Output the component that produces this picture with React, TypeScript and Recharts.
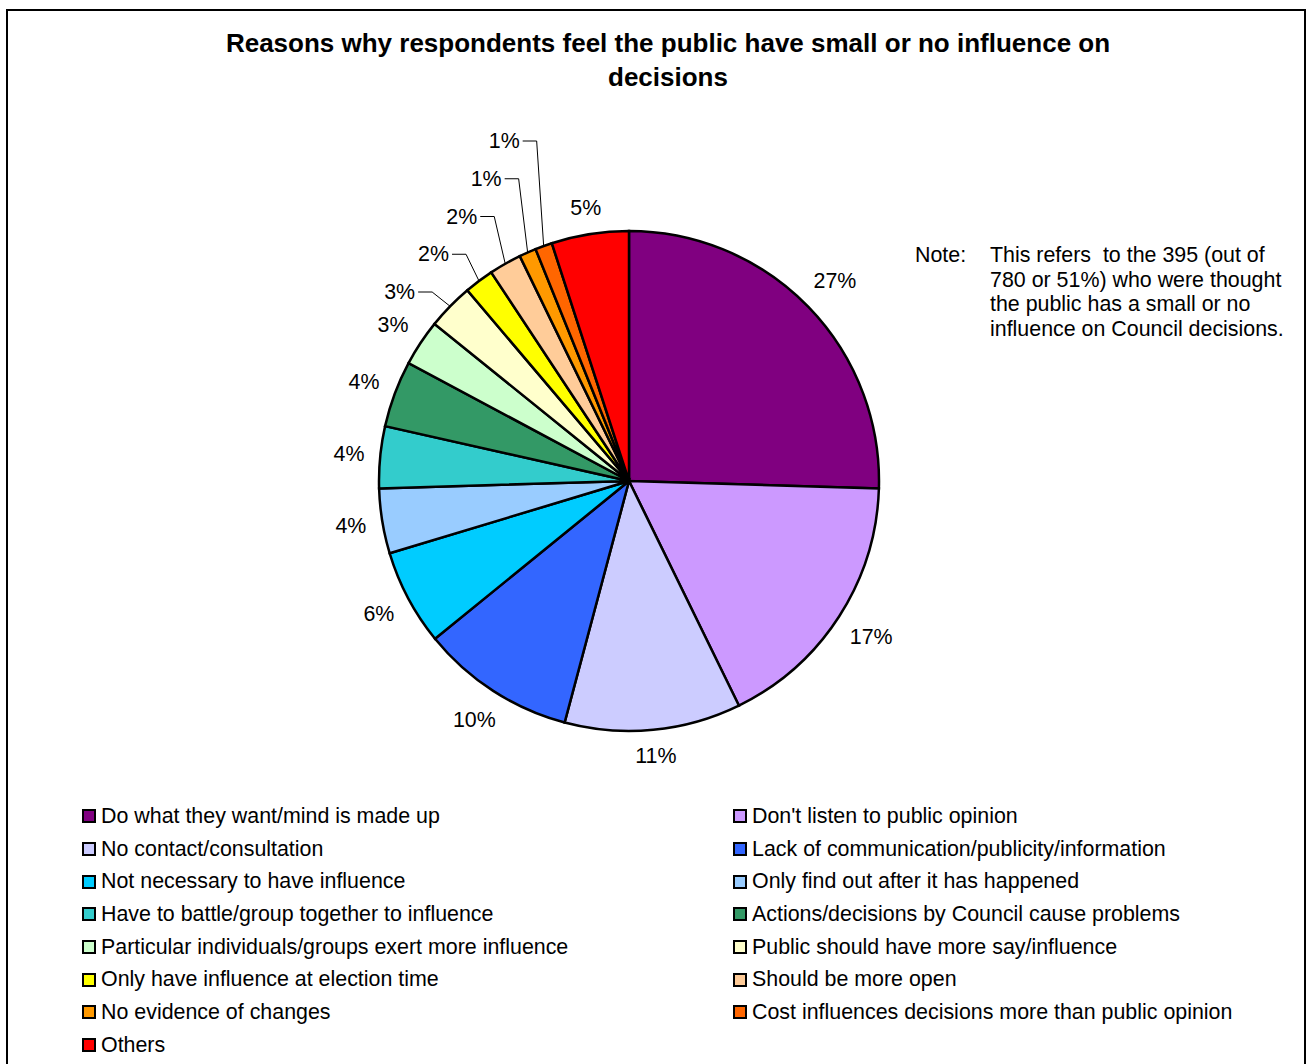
import { PieChart, Pie, Cell, Legend } from "recharts"

const categories = [
  "Do what they want/mind is made up",
  "Don't listen to public opinion",
  "No contact/consultation",
  "Lack of communication/publicity/information",
  "Not necessary to have influence",
  "Only find out after it has happened",
  "Have to battle/group together to influence",
  "Actions/decisions by Council cause problems",
  "Particular individuals/groups exert more influence",
  "Public should have more say/influence",
  "Only have influence at election time",
  "Should be more open",
  "No evidence of changes",
  "Cost influences decisions more than public opinion",
  "Others",
]

// slice sizes
const sliceShare = [25.5, 17.3, 11.4, 10.0, 6.2, 4.2, 4.0, 4.3, 3.0, 3.0, 1.9, 2.1, 1.1, 1.1, 5.0]

// percentages printed next to each slice
const printedPct = [27, 17, 11, 10, 6, 4, 4, 4, 3, 3, 2, 2, 1, 1, 5]

const colors = [
  "#800080", "#CC99FF", "#CCCCFF", "#3366FF", "#00CCFF",
  "#99CCFF", "#33CCCC", "#339966", "#CCFFCC", "#FFFFCC",
  "#FFFF00", "#FFCC99", "#FF9900", "#FF6600", "#FF0000",
]

const data = categories.map((name, i) => ({
  name,
  share: sliceShare[i],
  pct: printedPct[i],
}))

const FONT = "'Liberation Sans', Arial, sans-serif"
const FS = 21.4
const RAD = Math.PI / 180

// leader-line labels for the crowded small slices at the top left
const LEADER_FIRST = 9
const leaderElbowDx = [18, 13, 11, 9, 7]

function renderLabel(props: any) {
  const { cx, cy, midAngle, outerRadius, index } = props
  const text = `${printedPct[index]}%`
  const cos = Math.cos(midAngle * RAD)
  const sin = Math.sin(midAngle * RAD)

  if (index >= LEADER_FIRST && index < LEADER_FIRST + leaderElbowDx.length) {
    const k = index - LEADER_FIRST
    const ex = cx + outerRadius * cos
    const ey = cy - outerRadius * sin
    const ly = cy - 189 - 37.75 * k
    const elbowX = ex - leaderElbowDx[k]
    return (
      <g key={`lbl-${index}`}>
        <polyline
          points={`${elbowX - 14},${ly} ${elbowX},${ly} ${ex},${ey}`}
          fill="none"
          stroke="#000"
          strokeWidth={1}
        />
        <text
          x={elbowX - 17}
          y={ly}
          textAnchor="end"
          dominantBaseline="central"
          fontFamily={FONT}
          fontSize={FS}
          fill="#000"
        >
          {text}
        </text>
      </g>
    )
  }

  const hw = (((text.length - 1) * 0.556 + 0.889) * FS) / 2
  const hh = 9.5
  const d = outerRadius + 15 + hw * Math.abs(cos) + hh * Math.abs(sin)
  return (
    <text
      key={`lbl-${index}`}
      x={cx + d * cos}
      y={cy - d * sin}
      textAnchor="middle"
      dominantBaseline="central"
      fontFamily={FONT}
      fontSize={FS}
      fill="#000"
    >
      {text}
    </text>
  )
}

function LegendGrid() {
  return (
    <div
      style={{
        display: "grid",
        gridTemplateColumns: "651px 570px",
        gridAutoRows: "32.7px",
        fontFamily: FONT,
        fontSize: FS,
        color: "#000",
      }}
    >
      {categories.map((name, i) => (
        <div key={name} style={{ display: "flex", alignItems: "center", whiteSpace: "nowrap" }}>
          <span
            style={{
              display: "inline-block",
              width: 10,
              height: 10,
              border: "2px solid #000",
              background: colors[i],
              marginRight: 5,
            }}
          />
          {name}
        </div>
      ))}
    </div>
  )
}

export default function App() {
  return (
    <div
      style={{
        position: "absolute",
        left: 0,
        top: 0,
        width: 1308,
        height: 1064,
        overflow: "hidden",
        background: "#fff",
        fontFamily: FONT,
      }}
    >
      <div
        style={{
          position: "absolute",
          left: 6,
          top: 9,
          width: 1296,
          height: 1080,
          border: "2px solid #000",
        }}
      />
      <div
        style={{
          position: "absolute",
          left: 0,
          top: 26,
          width: 1336,
          textAlign: "center",
          fontWeight: "bold",
          fontSize: 26,
          lineHeight: "34px",
          color: "#000",
          whiteSpace: "nowrap",
        }}
      >
        Reasons why respondents feel the public have small or no influence on
        <br />
        decisions
      </div>
      <div
        style={{
          position: "absolute",
          left: 915,
          top: 243,
          fontSize: FS,
          lineHeight: "24.6px",
          color: "#000",
          whiteSpace: "pre",
        }}
      >
        Note:
      </div>
      <div
        style={{
          position: "absolute",
          left: 990,
          top: 243,
          fontSize: FS,
          lineHeight: "24.6px",
          color: "#000",
          whiteSpace: "pre",
        }}
      >
        {"This refers  to the 395 (out of\n780 or 51%) who were thought\nthe public has a small or no\ninfluence on Council decisions."}
      </div>
      <div style={{ position: "absolute", left: 0, top: 0 }}>
        <PieChart width={1308} height={1064} margin={{ top: 0, right: 0, bottom: 0, left: 0 }}>
          <Pie
            data={data}
            dataKey="share"
            nameKey="name"
            cx={629}
            cy={481}
            outerRadius={250}
            startAngle={90}
            endAngle={-270}
            stroke="#000"
            strokeWidth={2.5}
            label={renderLabel}
            labelLine={false}
            isAnimationActive={false}
          >
            {data.map((d, i) => (
              <Cell key={d.name} fill={colors[i]} />
            ))}
          </Pie>
          <Legend
            content={<LegendGrid />}
            wrapperStyle={{ position: "absolute", left: 82, top: 800, width: 1220 }}
          />
        </PieChart>
      </div>
    </div>
  )
}
